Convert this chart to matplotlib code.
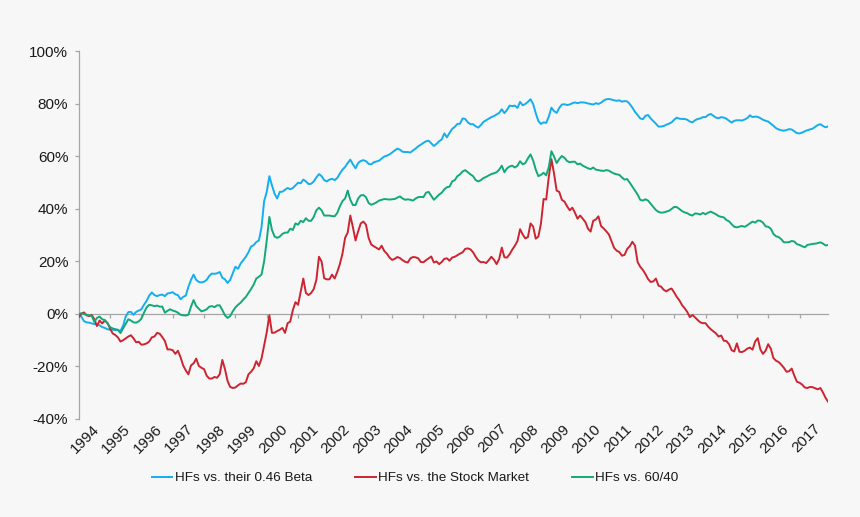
import numpy as np
import matplotlib
matplotlib.use('Agg')
import matplotlib.pyplot as plt
from matplotlib.ticker import FuncFormatter

# --- Data: monthly cumulative relative performance (%), Jan 1994 - Dec 2017 ---
years = list(range(1994, 2018))

beta_046 = [
    -0.3, -1.0, -2.7, -3.2, -3.3, -3.6, -3.8, -4.1, -4.3, -5.0, -5.3, -5.8,
    -6.0, -6.0, -6.1, -6.2, -6.4, -4.5, -1.0, 0.7, 0.8, -0.3, 0.8, 1.3,
    1.8, 3.5, 5.0, 7.0, 8.2, 7.2, 6.8, 7.2, 7.4, 6.8, 7.8, 8.0,
    8.3, 7.5, 7.2, 5.6, 6.5, 7.0, 10.3, 13.0, 15.0, 13.0, 12.2, 12.0,
    12.3, 13.0, 14.5, 15.4, 15.3, 15.5, 16.0, 13.8, 13.2, 11.8, 13.0, 15.5,
    18.0, 17.2, 19.2, 20.5, 21.8, 23.5, 25.7, 26.2, 27.4, 28.0, 33.0, 43.0,
    46.5, 52.5, 49.0, 45.8, 44.0, 46.5, 46.6, 47.3, 48.0, 47.5, 48.0, 49.0,
    50.0, 49.8, 51.2, 50.5, 49.5, 49.6, 50.5, 52.0, 53.3, 52.5, 51.0, 50.5,
    51.2, 51.5, 51.0, 51.8, 53.5, 55.0, 56.0, 57.5, 58.8, 57.0, 55.5, 57.5,
    58.3, 58.6, 58.2, 57.2, 57.0, 57.8, 58.1, 58.4, 59.2, 60.0, 60.3, 60.8,
    61.5, 62.3, 63.0, 62.6, 61.8, 61.7, 61.7, 61.5, 62.3, 63.0, 63.9, 64.5,
    65.2, 65.8, 66.0, 65.0, 64.0, 64.8, 65.8, 66.5, 68.8, 67.3, 69.0, 70.5,
    71.3, 72.4, 72.5, 74.5, 74.3, 73.0, 72.3, 72.3, 71.5, 71.0, 72.0, 73.2,
    73.8, 74.4, 75.0, 75.4, 76.0, 76.6, 78.0, 76.5, 77.8, 79.4, 79.2, 79.4,
    78.5, 80.8, 79.5, 80.0, 80.8, 81.8, 80.0, 76.5, 73.5, 72.4, 73.0, 72.8,
    75.2, 78.6, 77.3, 76.6, 78.5, 79.8, 79.9, 79.6, 79.8, 80.3, 80.6, 80.3,
    80.6, 80.6, 80.5, 80.2, 80.0, 79.8, 80.3, 80.0, 80.5, 81.3, 81.8, 81.9,
    81.7, 81.4, 81.2, 81.4, 80.9, 81.1, 81.0, 80.0, 78.6, 77.0, 75.8, 74.5,
    74.2, 75.5, 75.8, 74.5, 73.5, 72.5, 71.4, 71.4, 71.6, 72.1, 72.5, 73.0,
    74.0, 74.8, 74.4, 74.3, 74.3, 74.0, 73.3, 73.0, 73.8, 74.3, 74.5, 75.0,
    75.0, 75.8, 76.2, 75.5, 74.8, 74.6, 75.0, 74.8, 74.4, 73.6, 72.9, 73.6,
    73.8, 73.8, 73.7, 74.1, 74.6, 75.7, 75.0, 75.2, 75.1, 74.6, 74.0, 73.6,
    73.3, 72.5, 71.7, 70.8, 70.3, 70.0, 69.8, 70.1, 70.4, 70.3, 69.6, 68.9,
    68.8, 69.1, 69.6, 70.0, 70.3, 70.6, 71.3, 72.0, 72.3, 71.6, 71.1, 71.5,
]

stock_market = [
    -1.2, 0.0, 0.6, -0.5, -0.8, -0.4, -2.0, -4.6, -2.5, -3.6, -2.5, -3.4,
    -5.5, -7.4, -8.0, -8.9, -10.5, -10.0, -9.3, -8.6, -8.1, -9.3, -10.8, -10.6,
    -11.7, -11.6, -11.2, -10.5, -8.9, -8.6, -7.2, -7.5, -8.8, -10.3, -13.5, -13.5,
    -13.8, -15.2, -14.0, -16.5, -19.6, -21.5, -23.0, -19.6, -18.8, -17.0, -19.8, -20.5,
    -21.0, -23.5, -24.6, -24.6, -24.0, -24.3, -22.9, -17.5, -21.0, -25.5, -27.8, -28.2,
    -28.0, -27.2, -26.5, -26.6, -26.0, -23.0, -22.0, -20.7, -18.0, -19.8, -17.0, -12.0,
    -7.0, -0.5, -7.2, -7.1, -6.5, -6.0, -5.3, -7.2, -3.5, -2.9, 1.5, 4.5,
    3.5, 8.5, 13.5, 8.0, 7.2, 8.0, 9.5, 13.0, 21.8, 20.0, 13.6, 13.2,
    13.2, 15.0, 13.5, 16.0, 19.0, 23.0, 29.0, 31.0, 37.5, 33.0, 28.0, 31.5,
    34.5, 35.2, 34.0, 29.0, 26.5, 25.8, 25.2, 24.6, 26.0, 24.0, 23.0, 21.5,
    20.6, 21.0, 21.7, 21.3, 20.5, 19.9, 19.6, 21.2, 21.7, 21.6, 21.2, 19.8,
    19.7, 20.5, 21.2, 21.9, 19.6, 20.0, 19.0, 19.8, 21.0, 21.2, 20.3, 21.5,
    21.8, 22.4, 23.0, 23.5, 24.8, 25.0, 24.6, 23.5, 21.8, 20.4, 19.7, 19.8,
    19.4, 20.5, 21.8, 20.7, 19.0, 21.0, 25.3, 21.6, 21.5, 22.8, 24.5, 26.0,
    27.8, 32.3, 30.3, 28.8, 29.3, 34.5, 33.3, 28.7, 29.5, 34.5, 43.8, 43.6,
    52.3, 59.0, 53.5, 47.0, 46.5, 43.5, 42.8, 41.0, 39.5, 40.5, 38.6, 36.3,
    37.5, 36.3, 35.0, 32.5, 31.4, 35.5, 36.0, 37.2, 33.5, 32.6, 31.5, 30.3,
    27.8, 25.2, 24.1, 23.6, 22.2, 22.5, 24.8, 25.8, 27.5, 26.0, 19.8, 18.0,
    16.8, 15.2, 13.3, 12.2, 12.4, 13.5, 10.8, 10.4, 9.2, 8.6, 9.3, 9.7,
    8.2, 6.5, 5.2, 3.4, 2.2, 0.8, -1.2, -0.4, -1.3, -2.3, -3.2, -3.5,
    -3.5, -4.8, -5.8, -6.6, -7.4, -8.6, -8.2, -10.2, -10.3, -11.5, -13.8, -14.3,
    -11.2, -14.4, -14.5, -14.0, -13.2, -12.8, -13.6, -10.5, -9.2, -13.5, -15.2, -14.0,
    -11.5, -13.2, -16.8, -17.8, -18.3, -19.3, -20.5, -22.0, -21.8, -20.8, -23.5, -25.8,
    -26.2, -26.9, -28.0, -28.2, -27.8, -27.9, -28.3, -28.7, -28.2, -30.0, -32.0, -33.5,
]

sixty_forty = [
    0.0, 0.3, 0.0, -0.3, -0.5, -0.8, -3.0, -1.5, -1.0, -2.0, -2.3, -3.5,
    -5.0, -5.5, -5.8, -6.0, -7.3, -5.5, -3.8, -2.0, -2.5, -3.2, -3.3, -2.8,
    -1.8, 0.5, 2.5, 3.5, 3.3, 3.0, 3.2, 2.8, 2.8, 0.5, 1.2, 1.8,
    1.3, 1.0, 0.5, -0.3, -0.5, -0.6, -0.3, 2.8, 5.3, 3.0, 2.0, 1.0,
    1.3, 1.8, 2.8, 3.0, 2.6, 3.3, 3.3, 1.5, -0.5, -1.5, -0.8, 1.0,
    2.5, 3.5, 4.3, 5.5, 6.5, 8.0, 9.5, 11.2, 13.5, 14.2, 15.0, 20.0,
    28.0, 37.0, 32.0, 29.5, 29.0, 29.5, 30.5, 31.0, 31.0, 32.5, 32.0, 34.5,
    34.0, 35.5, 35.0, 36.5, 35.5, 35.5, 37.0, 39.5, 40.5, 39.5, 37.5, 37.5,
    37.5, 37.3, 37.2, 38.5, 41.0, 43.0, 44.0, 47.0, 43.5, 41.5, 41.5, 44.0,
    45.2, 45.3, 44.5, 42.3, 41.6, 42.0, 42.5, 43.2, 43.5, 43.8, 43.7, 43.6,
    43.7, 43.8, 44.3, 44.8, 44.0, 43.5, 43.7, 43.5, 43.2, 44.0, 44.5, 44.6,
    44.5, 46.2, 46.5, 45.0, 43.5, 44.5, 45.5, 46.2, 47.5, 48.3, 48.5, 50.5,
    51.0, 52.5, 53.2, 54.3, 54.8, 54.0, 53.2, 52.5, 51.0, 50.5, 51.0, 51.8,
    52.2, 52.8, 53.3, 53.6, 54.0, 55.0, 56.5, 54.0, 55.5, 56.2, 56.5, 55.8,
    56.5, 58.2, 57.0, 57.5, 59.3, 60.8, 58.5, 55.0, 52.5, 53.0, 53.8, 52.8,
    56.0, 62.0, 60.0, 57.5, 59.0, 60.2, 59.5, 58.3, 57.8, 58.0, 58.0, 57.0,
    57.3, 56.5, 56.0, 55.5, 55.2, 55.8, 55.0, 54.8, 54.6, 54.5, 54.8, 54.6,
    54.0, 53.5, 53.2, 53.0, 52.0, 51.2, 51.4, 50.0, 48.5, 47.0, 45.5, 43.5,
    43.2, 43.7, 43.2, 42.0, 40.8, 39.6, 38.9, 38.6, 38.7, 39.0, 39.3, 40.0,
    40.8, 40.7, 40.0, 39.2, 38.7, 38.4, 37.8, 37.5, 38.3, 38.2, 37.9, 38.5,
    38.0, 38.6, 39.0, 38.5, 38.0, 37.3, 37.0, 36.8, 35.8, 35.3, 34.2, 33.2,
    33.0, 33.3, 33.5, 33.2, 33.8, 34.5, 35.2, 34.8, 35.6, 35.5, 34.8, 33.4,
    33.2, 32.5, 30.5, 29.6, 29.3, 28.5, 27.3, 27.3, 27.4, 27.8, 27.6, 26.6,
    26.3, 25.8, 25.4, 26.3, 26.5, 26.7, 26.8, 27.0, 27.3, 26.8, 26.1, 26.3,
]

series_labels = ['HFs vs. their 0.46 Beta', 'HFs vs. the Stock Market', 'HFs vs. 60/40']

# --- Styling ---
BG = '#f7f7f7'
AXIS_GREY = '#a6a6a6'
TEXT = '#1a1a1a'
COLORS = ['#14aeee', '#cc2431', '#12a97a']

plt.rcParams['font.family'] = ['Liberation Sans', 'DejaVu Sans']

fig = plt.figure(figsize=(8.6, 5.17), dpi=100, facecolor=BG)
ax = fig.add_axes([0.0915, 0.1896, 0.8716, 0.7108])
ax.set_facecolor(BG)

months = np.arange(len(beta_046))
for values, color, label in zip([beta_046, stock_market, sixty_forty], COLORS, series_labels):
    ax.plot(months, values, color=color, lw=1.4, label=label, zorder=3)

ax.set_xlim(0, len(months) - 1)
ax.set_ylim(-40, 100)
ax.set_yticks(range(-40, 101, 20))
ax.yaxis.set_major_formatter(FuncFormatter(lambda v, _: f'{v:.0f}%'))

# spines: left axis, x axis sits on the 0% line
for side in ['top', 'right']:
    ax.spines[side].set_visible(False)
ax.spines['left'].set_color(AXIS_GREY)
ax.spines['bottom'].set_color(AXIS_GREY)
ax.spines['bottom'].set_position(('data', 0))
ax.spines['left'].set_linewidth(0.9)
ax.spines['bottom'].set_linewidth(0.9)

ax.set_xticks([12 * i for i in range(len(years))])
ax.tick_params(axis='x', direction='out', length=3, width=0.9, color=AXIS_GREY, labelbottom=False)
ax.tick_params(axis='y', direction='out', length=3, width=0.9, color=AXIS_GREY,
               labelsize=11, labelcolor=TEXT, pad=4.5)

# year labels along the bottom, rotated like the original
for i, yr in enumerate(years):
    ax.annotate(str(yr), xy=(12 * i + 6, 0), xycoords=('data', 'axes fraction'),
                xytext=(-1.5, -2), textcoords='offset points',
                rotation=45, ha='right', va='top', rotation_mode='anchor',
                fontsize=11, color=TEXT)

fig.legend(loc='center', bbox_to_anchor=(0.483, 0.0754), ncol=3, frameon=False,
           handlelength=1.5, handletextpad=0.2, columnspacing=3.2, fontsize=9.7,
           labelcolor=TEXT)

fig.savefig('out.png', dpi=100, facecolor=BG)
